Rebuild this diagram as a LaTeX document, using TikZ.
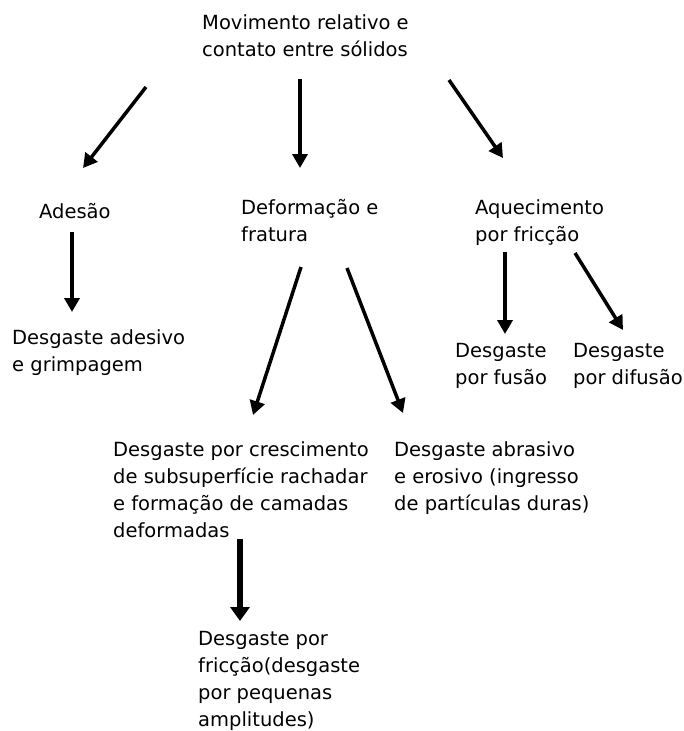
\documentclass[tikz,border=0pt]{standalone}
\usepackage{fontspec}
\setmainfont{DejaVu Sans}
\usetikzlibrary{arrows.meta}
\begin{document}
\begin{tikzpicture}[x=1pt,y=-1pt,
  lbl/.style={anchor=north west,inner sep=0pt,align=left,
    font=\fontsize{19.5}{27}\selectfont,execute at begin node=\strut},
  arr/.style={line width=3.5pt,-{Triangle[length=14pt,width=15pt]}},
  bigarr/.style={line width=6pt,-{Triangle[length=14pt,width=19pt]}}]
\useasboundingbox (0,0) rectangle (684,731);
\node[lbl] (n0) at (202,14.1) {Movimento relativo e\\contato entre sólidos};
\node[lbl] (n1) at (39,199.1) {Adesão};
\node[lbl] (n2) at (241,199.1) {Deformação e\\fratura};
\node[lbl] (n3) at (475,199.1) {Aquecimento\\por fricção};
\node[lbl] (n4) at (12,329.1) {Desgaste adesivo\\e grimpagem};
\node[lbl] (n5) at (455,343.1) {Desgaste\\por fusão};
\node[lbl] (n6) at (573,343.1) {Desgaste\\por difusão};
\node[lbl] (n7) at (113,441.1) {Desgaste por crescimento\\de subsuperfície rachadar\\e formação de camadas\\deformadas};
\node[lbl] (n8) at (394,441.1) {Desgaste abrasivo\\e erosivo (ingresso\\de partículas duras)};
\node[lbl] (n9) at (198,631.1) {Desgaste por\\fricção(desgaste\\por pequenas\\amplitudes)};
\coordinate (a1s) at (146,87);  \coordinate (a1e) at (83,168);
\coordinate (a2s) at (300,79);  \coordinate (a2e) at (300,168);
\coordinate (a3s) at (449,80);  \coordinate (a3e) at (503,158);
\coordinate (a4s) at (72,232);  \coordinate (a4e) at (72,312);
\coordinate (a5s) at (301,267); \coordinate (a5e) at (253,415);
\coordinate (a6s) at (347,268); \coordinate (a6e) at (403,413);
\coordinate (a7s) at (505,252); \coordinate (a7e) at (505,334);
\coordinate (a8s) at (575,253); \coordinate (a8e) at (623,330);
\coordinate (a9s) at (240,539); \coordinate (a9e) at (240,621);
\draw[arr] (a1s) -- (a1e);
\draw[arr] (a2s) -- (a2e);
\draw[arr] (a3s) -- (a3e);
\draw[arr] (a4s) -- (a4e);
\draw[arr] (a5s) -- (a5e);
\draw[arr] (a6s) -- (a6e);
\draw[arr] (a7s) -- (a7e);
\draw[arr] (a8s) -- (a8e);
\draw[bigarr] (a9s) -- (a9e);
\end{tikzpicture}
\end{document}
